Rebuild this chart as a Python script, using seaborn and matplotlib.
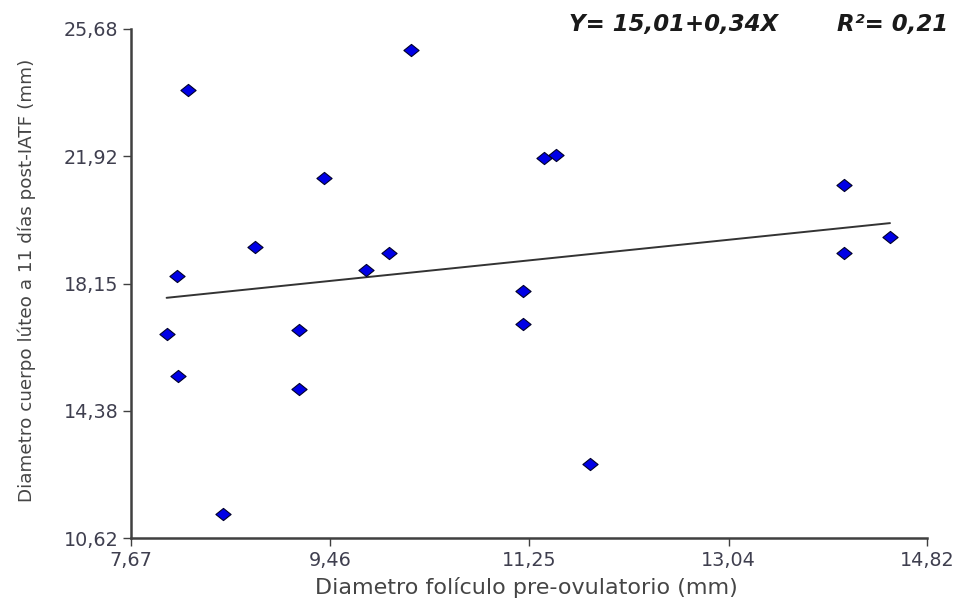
import numpy as np
import pandas as pd
import matplotlib
matplotlib.use("Agg")
import matplotlib.pyplot as plt
import seaborn as sns
from matplotlib.path import Path

# ---- data ----
folicle_mm = [7.99, 8.08, 8.09, 8.18, 8.50, 8.78, 9.18, 9.18, 9.40, 9.78,
              9.99, 10.19, 11.19, 11.19, 11.38, 11.49, 11.79, 14.08, 14.08, 14.49]
cl_mm = [16.67, 18.36, 15.42, 23.87, 11.33, 19.24, 16.76, 15.04, 21.26, 18.54,
         19.04, 25.06, 17.94, 16.96, 21.86, 21.95, 12.81, 21.06, 19.04, 19.54]
intercept = 15.01
slope = 0.34
r2 = 0.21
x_ticks = [7.67, 9.46, 11.25, 13.04, 14.82]
y_ticks = [10.62, 14.38, 18.15, 21.92, 25.68]
x_label = "Diametro folículo pre-ovulatorio (mm)"
y_label = "Diametro cuerpo lúteo a 11 días post-IATF (mm)"

df = pd.DataFrame({"x": folicle_mm, "y": cl_mm})
xs = np.array([min(folicle_mm), max(folicle_mm)])
fit = pd.DataFrame({"x": xs, "y": intercept + slope * xs})

sns.set_theme(style="white")
plt.rcParams["font.family"] = ["DejaVu Sans"]

fig = plt.figure(figsize=(9.6, 5.99), dpi=100)
ax = fig.add_axes([131 / 960, 1 - 538 / 599, (926.7 - 131) / 960, (538 - 29) / 599])
W = 926.7 - 131
H = 538 - 29

wide_diamond = Path([(-1, 0), (0, 0.8), (1, 0), (0, -0.8), (-1, 0)],
                    [Path.MOVETO, Path.LINETO, Path.LINETO, Path.LINETO, Path.CLOSEPOLY])

sns.lineplot(data=fit, x="x", y="y", ax=ax, color="#333333", linewidth=1.4)
sns.scatterplot(data=df, x="x", y="y", ax=ax, marker=wide_diamond, s=120,
                color="#0000e6", edgecolor="#00002a", linewidth=0.8, zorder=3)

ax.set_xlim(x_ticks[0], x_ticks[-1])
ax.set_ylim(y_ticks[0], y_ticks[-1])
ax.set_xticks(x_ticks)
ax.set_yticks(y_ticks)
fmt = lambda v: f"{v:.2f}".replace(".", ",")
tick_col = "#3f3f4f"
ax.set_xticklabels([fmt(v) for v in x_ticks], fontsize=13.8, color=tick_col)
ax.set_yticklabels([fmt(v) for v in y_ticks], fontsize=13.8, color=tick_col)
ax.tick_params(axis="both", which="major", direction="out", length=6, width=1.0,
               color="#404040", bottom=True, left=True)
ax.tick_params(axis="x", pad=3)
ax.tick_params(axis="y", pad=3)

for side in ["top", "right"]:
    ax.spines[side].set_visible(False)
for side in ["left", "bottom"]:
    ax.spines[side].set_color("#404040")
    ax.spines[side].set_linewidth(1.8)

ax.set_xlabel(x_label, fontsize=16, color="#454545")
ax.set_ylabel(y_label, fontsize=13.2, color="#454545")
ax.xaxis.set_label_coords((526 - 131) / W, -(577 - 538) / H)
ax.yaxis.set_label_coords(-(131 - 36) / W, (538 - 280) / H)

eq_kw = dict(fontsize=16.5, fontweight="bold", fontstyle="oblique",
             family=["DejaVu Sans"], color="#1a1a1a", va="center")
fig.text(569 / 960, 1 - 24 / 599, f"Y= {fmt(intercept)}+{fmt(slope)}X", ha="left", **eq_kw)
fig.text(948 / 960, 1 - 24 / 599, f"R²= {fmt(r2)}", ha="right", **eq_kw)

ax.grid(False)
fig.savefig("out.png", dpi=100)
